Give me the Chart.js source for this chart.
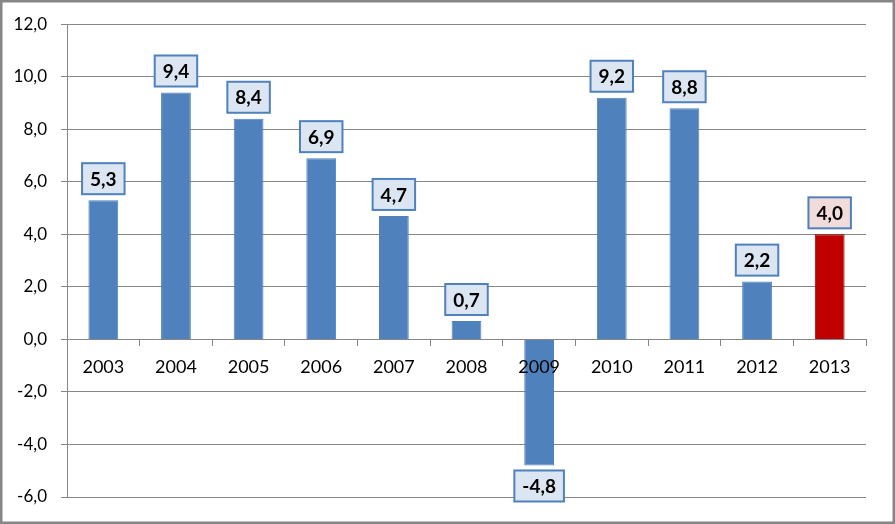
<!DOCTYPE html>
<html>
<head>
<meta charset="utf-8">
<script src="https://cdn.jsdelivr.net/npm/chart.js@4.4.1/dist/chart.umd.min.js"></script>
<style>
  body { margin: 0; background: #ffffff; }
  #wrap { width: 895px; height: 524px; }
</style>
</head>
<body>
<div id="wrap"><canvas id="grafico" width="895" height="524"></canvas></div>
<script>
const anios = ["2003", "2004", "2005", "2006", "2007", "2008", "2009", "2010", "2011", "2012", "2013"];
const valores = [5.3, 9.4, 8.4, 6.9, 4.7, 0.7, -4.8, 9.2, 8.8, 2.2, 4.0];
const ticksY = [-6, -4, -2, 0, 2, 4, 6, 8, 10, 12];

const azul = "#4f81bd";
const rojo = "#c00000";
const gris = "#868686";

function coma(v) {
  return v.toFixed(1).replace(".", ",");
}

// Colores de cada barra (la ultima en rojo)
const colores = valores.map((v, i) => (i === valores.length - 1 ? rojo : azul));
const bordes = valores.map((v, i) => (i === valores.length - 1 ? "#8c0000" : azul));

// Etiquetas con caja encima de cada barra
const etiquetas = {
  id: "etiquetas",
  afterDatasetsDraw(chart) {
    const ctx = chart.ctx;
    const meta = chart.getDatasetMeta(0);
    ctx.save();
    ctx.font = "bold 19px Lato";
    ctx.textAlign = "center";
    ctx.textBaseline = "middle";
    meta.data.forEach((barra, i) => {
      const texto = coma(valores[i]);
      const ancho = ctx.measureText(texto).width + 16;
      const alto = 31;
      let top;
      if (valores[i] >= 0) {
        top = barra.y - 6 - alto;
      } else {
        top = barra.y + 5;
      }
      const left = barra.x - ancho / 2;
      ctx.fillStyle = i === valores.length - 1 ? "#f2dcdb" : "#dce6f2";
      ctx.fillRect(left, top, ancho, alto);
      ctx.lineWidth = 2;
      ctx.strokeStyle = azul;
      ctx.strokeRect(left, top, ancho, alto);
      ctx.fillStyle = "#000000";
      ctx.fillText(texto, barra.x, top + alto / 2 + 1);
    });
    ctx.restore();
  },
};

// Marco exterior
const marco = {
  id: "marco",
  afterDraw(chart) {
    const ctx = chart.ctx;
    ctx.save();
    ctx.strokeStyle = gris;
    ctx.lineWidth = 2.5;
    ctx.strokeRect(1.25, 1.25, chart.width - 2.5, chart.height - 2.5);
    ctx.restore();
  },
};

new Chart(document.getElementById("grafico"), {
  type: "bar",
  data: {
    labels: anios,
    datasets: [
      {
        data: valores,
        backgroundColor: colores,
        borderColor: bordes,
        borderWidth: 1,
        barPercentage: 0.41,
        categoryPercentage: 1,
      },
    ],
  },
  options: {
    responsive: false,
    animation: false,
    layout: { padding: { top: 18, right: 29, bottom: 27, left: 0 } },
    plugins: {
      legend: { display: false },
      tooltip: { enabled: false },
    },
    scales: {
      x: {
        position: { y: 0 },
        grid: {
          offset: true,
          drawOnChartArea: false,
          drawTicks: true,
          tickLength: 6,
          color: gris,
          z: 1,
        },
        border: { color: gris, width: 1, z: 1 },
        ticks: {
          color: "#000000",
          font: { family: "Lato", size: 18 },
          padding: 11,
          maxRotation: 0,
          z: 2,
        },
      },
      y: {
        min: -6,
        max: 12,
        afterFit: (scale) => {
          scale.width = 67;
        },
        afterBuildTicks: (scale) => {
          scale.ticks = ticksY.map((v) => ({ value: v }));
        },
        grid: { color: gris, tickLength: 6, lineWidth: 1 },
        border: { color: gris, width: 1 },
        ticks: {
          color: "#000000",
          font: { family: "Lato", size: 17 },
          padding: 14,
          callback: (v) => coma(v),
        },
      },
    },
  },
  plugins: [etiquetas, marco],
});
</script>
</body>
</html>
